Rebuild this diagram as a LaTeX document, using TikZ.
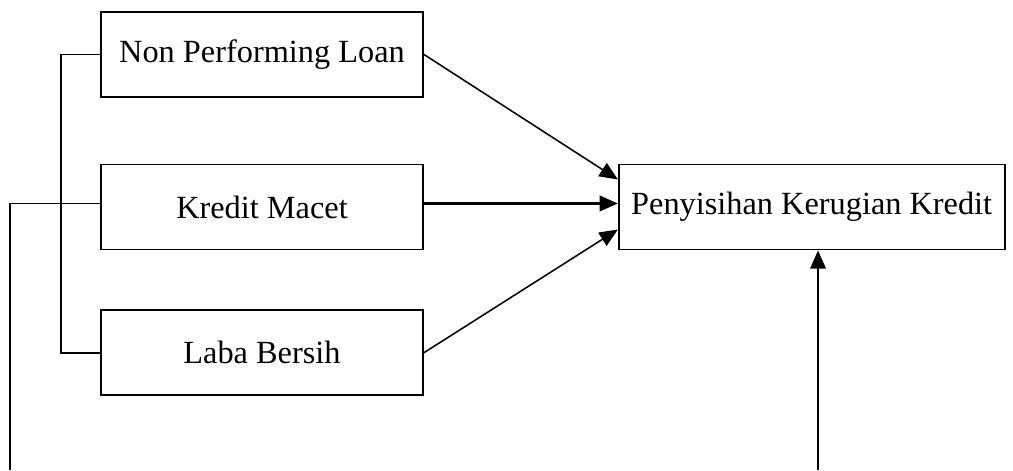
\documentclass[tikz,border=0pt]{standalone}
\usepackage{fontspec}
\setmainfont{Liberation Serif}
\usetikzlibrary{positioning}
\usetikzlibrary{arrows.meta}
\tikzset{
  varbox/.style={rectangle,draw,line width=1.2pt,inner sep=0pt,
                 minimum width=8.05cm,minimum height=2.125cm,
                 align=center,font=\fontsize{23}{27}\selectfont},
  link/.style={line width=1.1pt},
  effect/.style={line width=1.1pt,-{Triangle[length=13pt,width=11pt]}},
  maineffect/.style={line width=1.7pt,-{Triangle[length=13pt,width=11pt]}},
}

\begin{document}
\begin{tikzpicture}
  \useasboundingbox (0,0) rectangle (25.325,-11.75);

  \node[varbox] (npl) at (6.55,-1.36)   {Non Performing Loan};
  \node[varbox] (km)  [below=1.65cm of npl]  {Kredit Macet};
  \node[varbox] (lb)  [below=1.475cm of km]  {Laba Bersih};
  \node[varbox,minimum width=9.65cm] (pkk) [right=4.85cm of km]
      {Penyisihan Kerugian Kredit};

  % free ends at the bottom edge
  \coordinate (lfoot) at (0.25,-11.75);
  \coordinate (rfoot) at (20.45,-11.75);

  % bracket joining the three variables
  \draw[link] (npl.west) -- ++(-0.975,0) |- (lb.west);
  \draw[link] (lfoot) |- ([yshift=0.09cm]km.west);

  \draw[effect]     (npl.east) -- ([yshift=0.69cm]pkk.west);
  \draw[maineffect] ([yshift=0.09cm]km.east) -- ([yshift=0.09cm]pkk.west);
  \draw[effect]     (lb.east)  -- ([yshift=-0.56cm]pkk.west);

  \draw[maineffect] (rfoot) -- (rfoot |- pkk.south);
\end{tikzpicture}
\end{document}
